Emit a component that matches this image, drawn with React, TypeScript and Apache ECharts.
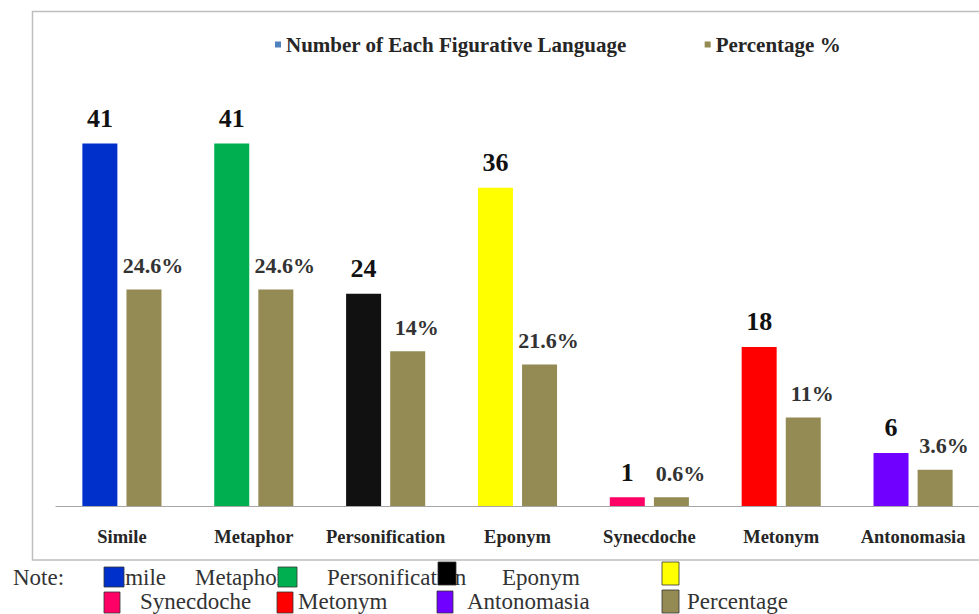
import React, { useEffect, useRef } from "react";
import * as echarts from "echarts";

const categories = ["Simile", "Metaphor", "Personification", "Eponym", "Synecdoche", "Metonym", "Antonomasia"];
const counts = [41, 41, 24, 36, 1, 18, 6];
const countColors = ["#0030CC", "#00B050", "#111111", "#FFFF00", "#FF0066", "#FF0000", "#7000FF"];
// bar heights as drawn in the picture (on the same scale as counts)
const percentBarHeights = [24.5, 24.5, 17.5, 16, 1, 10, 4.1];
// percentage labels as printed
const percentLabels = ["24.6%", "24.6%", "14%", "21.6%", "0.6%", "11%", "3.6%"];
const seriesNames = ["Number of Each Figurative Language", "Percentage %"];
const noteRow1 = ["Simile", "Metaphor", "Personification", "Eponym"];
const noteRow2 = ["Synecdoche", "Metonym", "Antonomasia", "Percentage"];

const SERIF = "Liberation Serif";
const OLIVE = "#948A54";

const boldText = (size: number, color: string) => ({
  fontFamily: SERIF,
  fontWeight: "bold",
  fontSize: size,
  color,
});

export default function App() {
  const ref = useRef<HTMLDivElement>(null);
  useEffect(() => {
    if (!ref.current) return;
    const chart = echarts.init(ref.current, undefined, { renderer: "svg" });

    const noteText = (text: string, x: number, y: number) => ({
      type: "text",
      x,
      y,
      z: 10,
      style: { text, fontFamily: SERIF, fontSize: 23, fill: "#333", verticalAlign: "middle", align: "left" },
    });
    const noteBox = (x: number, y: number, w: number, h: number, color: string) => ({
      type: "rect",
      z: 20,
      shape: { x, y, width: w, height: h },
      style: { fill: color, stroke: "#333", lineWidth: 0.8 },
    });

    const option: any = {
      animation: false,
      backgroundColor: "#ffffff",
      legend: {
        top: 29,
        left: 270,
        itemWidth: 6,
        itemHeight: 6,
        itemGap: 78,
        icon: "rect",
        textStyle: boldText(21, "#262626"),
        data: seriesNames,
      },
      grid: { left: 56, right: -5, top: 64, bottom: 108 },
      xAxis: {
        type: "category",
        data: categories,
        axisLine: { lineStyle: { color: "#A6A6A6", width: 1.2 } },
        axisTick: { show: false },
        axisLabel: {
          interval: 0,
          margin: 21,
          ...boldText(18.5, "#262626"),
        },
      },
      yAxis: { type: "value", min: 0, max: 50, show: false, splitLine: { show: false } },
      series: [
        {
          name: seriesNames[0],
          type: "bar",
          barWidth: 35,
          barGap: "26%",
          itemStyle: { color: "#4F81BD" },
          data: counts.map((v, i) => ({ value: v, itemStyle: { color: countColors[i] } })),
          label: {
            show: true,
            position: "top",
            distance: 12,
            ...boldText(26, "#111"),
          },
        },
        {
          name: seriesNames[1],
          type: "bar",
          barWidth: 35,
          itemStyle: { color: OLIVE },
          data: percentBarHeights,
          label: {
            show: true,
            position: "top",
            distance: 13,
            offset: [9, 0],
            ...boldText(22, "#333"),
            formatter: (p: any) => percentLabels[p.dataIndex],
          },
        },
      ],
      graphic: [
        {
          type: "rect",
          z: -10,
          silent: true,
          shape: { x: 32.5, y: 11.5, width: 1000, height: 548.5 },
          style: { fill: "none", stroke: "#BFBFBF", lineWidth: 1.5 },
        },
        noteText("Note:", 13, 577),
        noteText(noteRow1[0], 106, 577),
        noteBox(104, 567, 20, 20, countColors[0]),
        noteText(noteRow1[1], 195, 577),
        noteBox(278, 567, 19, 20, countColors[1]),
        noteText(noteRow1[2], 327, 577),
        noteBox(438, 562, 18, 23, "#000000"),
        noteText(noteRow1[3], 502, 577),
        noteBox(662, 562, 17, 23, countColors[3]),
        noteBox(104, 592, 16, 21, countColors[4]),
        noteText(noteRow2[0], 140, 601),
        noteBox(277, 592, 16, 21, countColors[5]),
        noteText(noteRow2[1], 298, 601),
        noteBox(437, 591, 16, 22, countColors[6]),
        noteText(noteRow2[2], 467, 601),
        noteBox(662, 590, 17, 23, OLIVE),
        noteText(noteRow2[3], 687, 601),
      ],
    };
    chart.setOption(option);
    return () => chart.dispose();
  }, []);
  return (
    <div
      ref={ref}
      style={{ position: "fixed", left: 0, top: 0, width: 979, height: 614, background: "#fff" }}
    />
  );
}
